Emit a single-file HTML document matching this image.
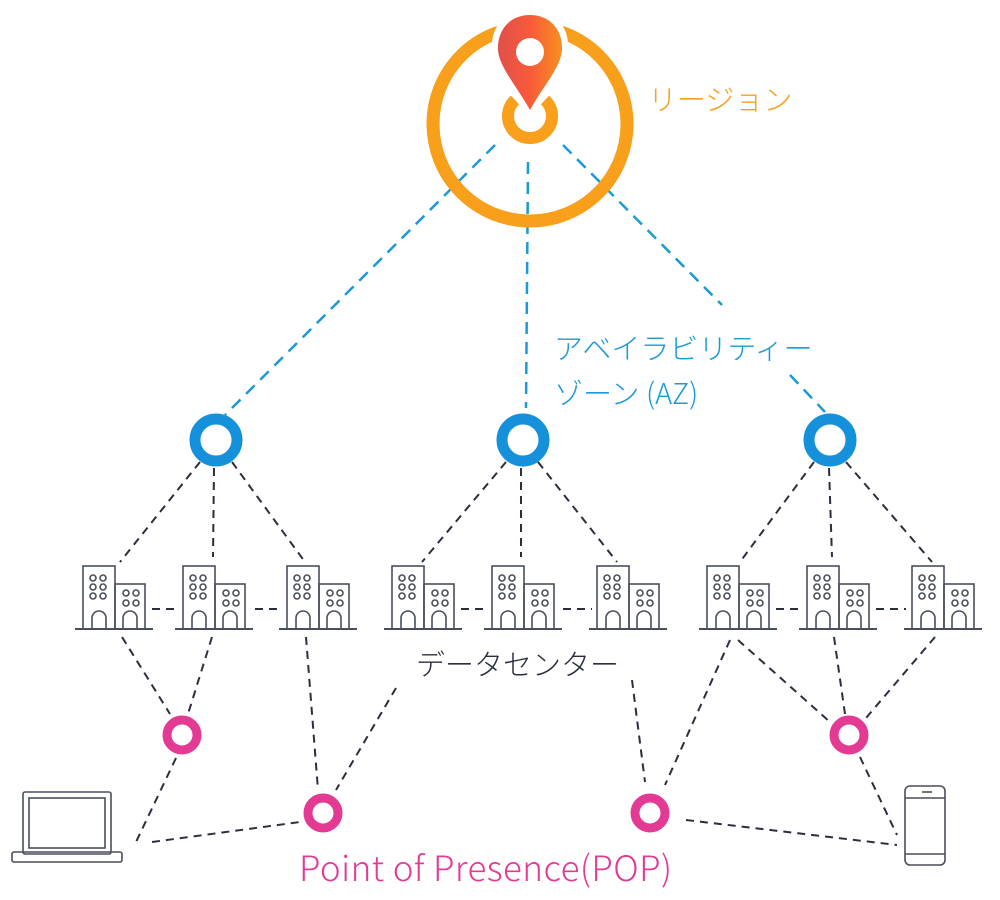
<!DOCTYPE html>
<html><head><meta charset="utf-8"><style>
html,body{margin:0;padding:0;background:#fff;}
svg{display:block;}
text{font-family:"Liberation Sans","Noto Sans CJK JP",sans-serif;}
.jp{font-family:"Noto Sans CJK JP",sans-serif;font-weight:300;}
</style></head><body>
<svg width="1000" height="900" viewBox="0 0 1000 900" xmlns="http://www.w3.org/2000/svg">
<defs>
<linearGradient id="pg" x1="0" x2="1" y1="0" y2="0">
<stop offset="0" stop-color="#e0504a"/><stop offset="0.5" stop-color="#f85a3a"/><stop offset="1" stop-color="#f7901e"/>
</linearGradient>
<g id="bld" fill="none" stroke="#4a4f5c" stroke-width="1.6">
<rect x="0" y="0" width="32" height="63"/>
<rect x="32" y="18" width="30" height="45"/>
<line x1="-8" y1="63" x2="70" y2="63" stroke-width="2"/>
<circle cx="10" cy="12" r="3"/><circle cx="20" cy="12" r="3"/>
<circle cx="10" cy="21" r="3"/><circle cx="20" cy="21" r="3"/>
<circle cx="10" cy="30" r="3"/><circle cx="20" cy="30" r="3"/>
<circle cx="43" cy="27" r="3"/><circle cx="53" cy="27" r="3"/>
<circle cx="43" cy="37" r="3"/><circle cx="53" cy="37" r="3"/>
<path d="M9 63 V52 a7 7 0 0 1 14 0 V63"/>
<path d="M40 63 V52 a7 7 0 0 1 14 0 V63"/>
</g>
</defs>

<g stroke="#1a9ad6" stroke-width="2.5" stroke-dasharray="12 8" fill="none">
<line x1="495" y1="145" x2="225" y2="415"/>
<line x1="528" y1="162" x2="526" y2="408"/>
<line x1="563" y1="145" x2="722" y2="305"/>
<line x1="790" y1="375" x2="825" y2="412"/>
</g>

<g stroke="#2a2f3e" stroke-width="2" stroke-dasharray="8 6" fill="none">
<line x1="200" y1="462" x2="120" y2="562"/>
<line x1="214" y1="468" x2="213" y2="557"/>
<line x1="232" y1="462" x2="305" y2="562"/>
<line x1="506" y1="462" x2="422" y2="562"/>
<line x1="521" y1="468" x2="521" y2="557"/>
<line x1="538" y1="462" x2="617" y2="562"/>
<line x1="814" y1="462" x2="740" y2="562"/>
<line x1="829" y1="468" x2="832" y2="557"/>
<line x1="846" y1="462" x2="932" y2="562"/>
<line x1="152" y1="609" x2="178" y2="609"/>
<line x1="255" y1="609" x2="282" y2="609"/>
<line x1="461" y1="609" x2="487" y2="609"/>
<line x1="563" y1="609" x2="592" y2="609"/>
<line x1="776" y1="609" x2="802" y2="609"/>
<line x1="876" y1="609" x2="906" y2="609"/>
<line x1="122" y1="637" x2="170" y2="714"/>
<line x1="212" y1="637" x2="188" y2="714"/>
<line x1="306" y1="637" x2="318" y2="790"/>
<line x1="396" y1="688" x2="336" y2="790"/>
<line x1="632" y1="680" x2="645" y2="782"/>
<line x1="730" y1="640" x2="665" y2="785"/>
<line x1="738" y1="640" x2="830" y2="722"/>
<line x1="834" y1="637" x2="845" y2="714"/>
<line x1="935" y1="637" x2="866" y2="718"/>
<line x1="176" y1="758" x2="136" y2="842"/>
<line x1="152" y1="842" x2="300" y2="822"/>
<line x1="686" y1="820" x2="897" y2="845"/>
<line x1="860" y1="757" x2="897" y2="835"/>
</g>

<use href="#bld" x="83" y="566"/><use href="#bld" x="183" y="566"/><use href="#bld" x="287" y="566"/>
<use href="#bld" x="392" y="566"/><use href="#bld" x="492" y="566"/><use href="#bld" x="597" y="566"/>
<use href="#bld" x="707" y="566"/><use href="#bld" x="807" y="566"/><use href="#bld" x="912" y="566"/>

<circle cx="530" cy="124" r="97" fill="none" stroke="#f89f1b" stroke-width="13"/>
<path d="M515 100 A22 22 0 1 0 545 100" fill="none" stroke="#f89f1b" stroke-width="12"/>
<path d="M530 8 C505 8 490 28 492 50 C494 70 515 92 530 118 C545 92 566 70 568 50 C570 28 555 8 530 8 Z" fill="#fff"/>
<path d="M530 15 C510 15 497 30 498 50 C499 67 518 88 530 110 C542 88 561 67 562 50 C563 30 550 15 530 15 Z" fill="url(#pg)"/>
<circle cx="530" cy="52" r="14" fill="#fff"/>

<g fill="#fff" stroke="#1591dc" stroke-width="11">
<circle cx="216" cy="440" r="21"/><circle cx="523" cy="440" r="21"/><circle cx="830" cy="440" r="21"/>
</g>

<g fill="#fff" stroke="#e33a94" stroke-width="9">
<circle cx="182" cy="735" r="15"/><circle cx="323" cy="813" r="15"/><circle cx="650" cy="813" r="15"/><circle cx="849" cy="735" r="15"/>
</g>

<g fill="none" stroke="#4a4f5c" stroke-width="1.6">
<rect x="23" y="792" width="88" height="62" rx="2"/>
<rect x="29" y="798" width="76" height="50"/>
<rect x="12" y="852" width="110" height="10" rx="2"/>
</g>
<g fill="none" stroke="#4a4f5c" stroke-width="1.6">
<rect x="905" y="786" width="40" height="79" rx="5"/>
<line x1="905" y1="798" x2="945" y2="798"/>
<line x1="905" y1="854" x2="945" y2="854"/>
<line x1="922" y1="792" x2="932" y2="792"/>
</g>

<text class="jp" x="648" y="110" font-size="29" fill="#f8a020">リージョン</text>
<text class="jp" x="554" y="359" font-size="29" fill="#1a9ad6">アベイラビリティー</text>
<text class="jp" x="554" y="404" font-size="29" fill="#1a9ad6">ゾーン (AZ)</text>
<text class="jp" x="416" y="675" font-size="29" fill="#2a2f3e">データセンター</text>
<text class="jp" x="299" y="881" font-size="35" fill="#e33a94" textLength="373">Point of Presence(POP)</text>
</svg>
</body></html>
